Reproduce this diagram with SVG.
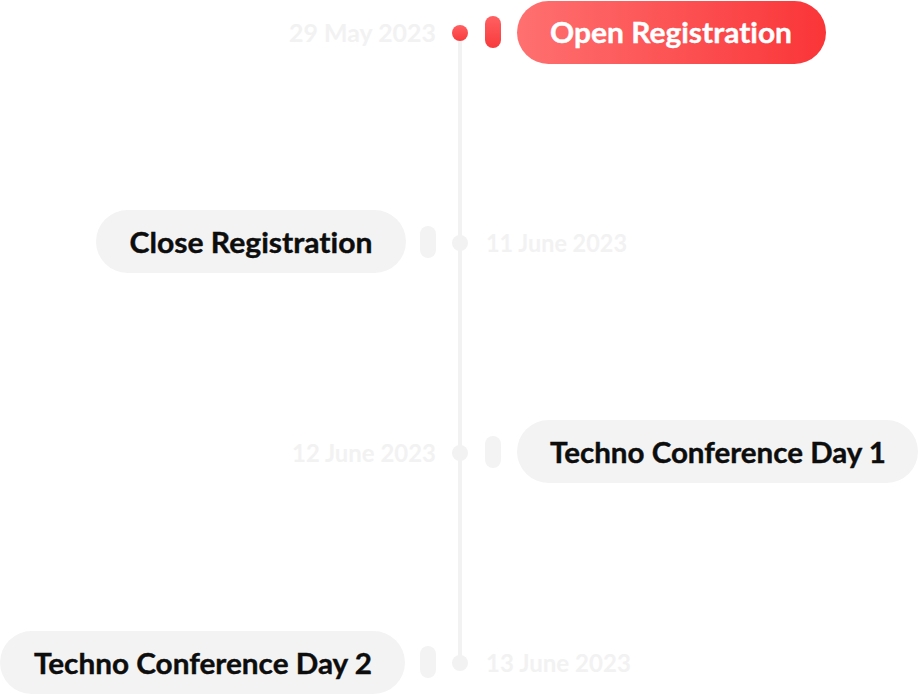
<svg xmlns="http://www.w3.org/2000/svg" width="919" height="695" viewBox="0 0 919 695">
<defs>
<linearGradient id="gH" x1="0" y1="0" x2="1" y2="0">
<stop offset="0" stop-color="#ff7070"/>
<stop offset="1" stop-color="#fa3538"/>
</linearGradient>
<linearGradient id="gV" x1="0" y1="0" x2="0" y2="1">
<stop offset="0" stop-color="#ff6062"/>
<stop offset="1" stop-color="#f83a3c"/>
</linearGradient>
<style>
text{font-variant-ligatures:none;font-feature-settings:"liga" 0}
.lbl{font-family:"Lato","Liberation Sans",sans-serif;font-weight:bold;font-size:29px;fill:#0d0d0d;text-anchor:middle;stroke:#0d0d0d;stroke-width:0.4px}
.lblw{font-family:"Lato","Liberation Sans",sans-serif;font-weight:bold;font-size:29px;fill:#ffffff;text-anchor:middle;stroke:#ffffff;stroke-width:0.4px}
.date{font-family:"Lato","Liberation Sans",sans-serif;font-weight:bold;font-size:24px;fill:#f2f2f2}
.pill{fill:#f3f3f3}
.tick{fill:#f3f3f3}
.dot{fill:#f2f2f2}
</style>
</defs>
<g id="connectors">
<rect x="458" y="33" width="4" height="630" fill="#f2f2f2"/>
</g>
<g id="node-open">
<circle cx="460" cy="33" r="8" fill="url(#gV)"/>
<rect x="485" y="16" width="16" height="32" rx="8" fill="url(#gV)"/>
<rect x="517" y="1" width="309" height="63" rx="31.5" fill="url(#gH)"/>
<text class="lblw" x="671" y="43" textLength="242" lengthAdjust="spacingAndGlyphs">Open Registration</text>
<text class="date" x="436" y="42" text-anchor="end" textLength="147" lengthAdjust="spacingAndGlyphs">29 May 2023</text>
</g>
<g id="node-close">
<circle class="dot" cx="460" cy="243" r="8"/>
<rect class="tick" x="420" y="226" width="16" height="32" rx="8"/>
<rect class="pill" x="96" y="210" width="310" height="63" rx="31.5"/>
<text class="lbl" x="251" y="253" textLength="243" lengthAdjust="spacingAndGlyphs">Close Registration</text>
<text class="date" x="486" y="252" textLength="141" lengthAdjust="spacingAndGlyphs">11 June 2023</text>
</g>
<g id="node-day1">
<circle class="dot" cx="460" cy="453" r="8"/>
<rect class="tick" x="485" y="436" width="16" height="32" rx="8"/>
<rect class="pill" x="517" y="420" width="401" height="63" rx="31.5"/>
<text class="lbl" x="718" y="463" textLength="336" lengthAdjust="spacingAndGlyphs">Techno Conference Day 1</text>
<text class="date" x="436" y="462" text-anchor="end" textLength="144" lengthAdjust="spacingAndGlyphs">12 June 2023</text>
</g>
<g id="node-day2">
<circle class="dot" cx="460" cy="663" r="8"/>
<rect class="tick" x="420" y="646" width="16" height="32" rx="8"/>
<rect class="pill" x="0" y="631" width="405" height="63" rx="31.5"/>
<text class="lbl" x="203" y="674" textLength="338" lengthAdjust="spacingAndGlyphs">Techno Conference Day 2</text>
<text class="date" x="486" y="672" textLength="145" lengthAdjust="spacingAndGlyphs">13 June 2023</text>
</g>
</svg>
